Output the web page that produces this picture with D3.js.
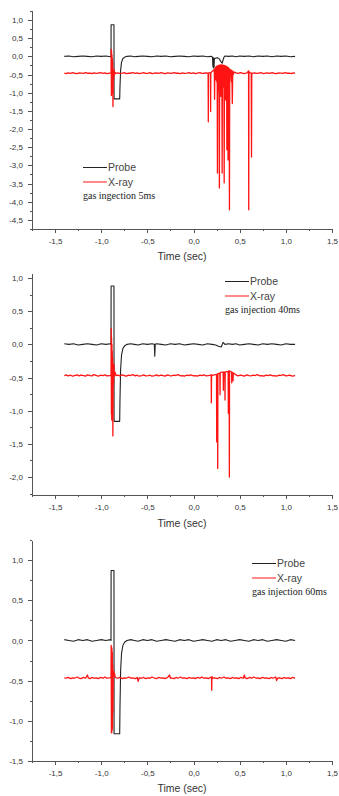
<!DOCTYPE html>
<html lang="en">
<head>
  <meta charset="UTF-8">
  <title>Probe and X-ray signals</title>
  <style>
    body {
      margin: 0;
      background: #fff;
    }
    svg {
      display: block;
    }
    .axis path,
    .axis line {
      stroke: #555;
      shape-rendering: crispEdges;
    }
    .axis text {
      fill: #333;
      font-family: "Liberation Sans", Arial, sans-serif;
      font-size: 8px;
    }
  </style>
</head>
<body>
  <svg id="chart" width="339" height="796"></svg>

  <script src="https://cdn.jsdelivr.net/npm/d3@7/dist/d3.min.js"></script>
  <script>
    // tick values
    const xTicks = [-1.5, -1.0, -0.5, 0.0, 0.5, 1.0, 1.5];
    const yTicks5 = [1.0, 0.5, 0.0, -0.5, -1.0, -1.5, -2.0, -2.5, -3.0, -3.5, -4.0, -4.5];
    const yTicks40 = [1.0, 0.5, 0.0, -0.5, -1.0, -1.5, -2.0];
    const yTicks60 = [1.0, 0.5, 0.0, -0.5, -1.0, -1.5];

    const seriesNames = ["Probe", "X-ray"];
    const notes = ["gas ingection 5ms", "gas injection 40ms", "gas injection 60ms"];
    const xTitle = "Time (sec)";

    // [time, signal]
    const probe5 = [[-1.40,0.00],[-1.35,0.01],[-1.30,-0.01],[-1.25,0.00],[-1.20,0.01],[-1.15,0.00],[-1.10,-0.01],[-1.05,0.01],[-1.00,0.00],[-0.95,0.01],[-0.90,-0.01],
      [-0.894,0.00],[-0.893,0.87],[-0.862,0.87],[-0.861,-1.17],[-0.800,-1.17],[-0.797,-0.85],[-0.790,-0.38],[-0.780,-0.16],[-0.765,-0.06],[-0.745,-0.02],[-0.72,0.00],
      [-0.68,0.01],[-0.64,-0.01],[-0.60,0.00],[-0.55,0.01],[-0.50,0.00],[-0.45,-0.01],[-0.40,0.01],[-0.35,0.00],[-0.30,0.01],[-0.25,-0.01],[-0.20,0.00],[-0.15,0.01],[-0.10,0.00],[-0.05,-0.01],[0.00,0.01],[0.05,0.00],[0.10,0.01],[0.15,-0.01],[0.19,0.00],
      [0.205,-0.02],[0.210,-0.28],[0.213,-0.05],[0.216,-0.32],[0.219,-0.04],[0.222,-0.30],[0.226,-0.06],[0.24,-0.05],[0.26,-0.04],[0.28,-0.07],[0.295,-0.14],[0.31,-0.19],[0.32,-0.10],[0.33,-0.02],[0.34,0.01],
      [0.38,0.00],[0.42,0.01],[0.46,-0.01],[0.50,0.01],[0.55,0.00],[0.60,0.01],[0.65,-0.01],[0.70,0.01],[0.75,0.00],[0.80,0.01],[0.85,-0.01],[0.90,0.01],[0.95,0.00],[1.00,0.01],[1.05,-0.01],[1.10,0.00]];

    const xray5 = [[-1.40,-0.46],[-1.38,-0.475],[-1.36,-0.455],[-1.33,-0.47],[-1.31,-0.45],[-1.29,-0.465],[-1.26,-0.475],[-1.24,-0.455],[-1.22,-0.46],[-1.19,-0.47],[-1.17,-0.45],[-1.15,-0.465],[-1.12,-0.46],[-1.10,-0.475],[-1.08,-0.455],[-1.05,-0.47],[-1.03,-0.46],[-1.01,-0.45],[-0.98,-0.47],[-0.96,-0.455],[-0.94,-0.475],[-0.91,-0.46],
      [-0.894,-0.46],[-0.892,0.20],[-0.890,-1.08],[-0.888,0.15],[-0.886,-1.02],[-0.884,0.05],[-0.882,-0.95],[-0.880,-0.05],[-0.878,-0.90],[-0.876,-0.15],[-0.873,-1.38],[-0.870,-0.40],[-0.866,-0.62],[-0.862,-0.36],[-0.858,-0.52],[-0.85,-0.44],[-0.84,-0.47],
      [-0.82,-0.455],[-0.80,-0.47],[-0.77,-0.46],[-0.75,-0.45],[-0.73,-0.475],[-0.70,-0.46],[-0.68,-0.465],[-0.66,-0.45],[-0.63,-0.47],[-0.61,-0.455],[-0.59,-0.475],[-0.56,-0.46],[-0.54,-0.45],[-0.52,-0.47],[-0.49,-0.465],[-0.47,-0.45],[-0.45,-0.475],[-0.42,-0.46],[-0.40,-0.455],[-0.38,-0.47],[-0.35,-0.45],[-0.33,-0.465],[-0.31,-0.475],[-0.28,-0.455],[-0.26,-0.46],[-0.24,-0.47],[-0.21,-0.45],[-0.19,-0.465],[-0.17,-0.46],[-0.14,-0.475],[-0.12,-0.455],[-0.10,-0.47],[-0.07,-0.46],[-0.05,-0.45],[-0.03,-0.47],[0.00,-0.455],[0.02,-0.475],[0.04,-0.46],[0.07,-0.45],[0.09,-0.47],[0.11,-0.465],[0.14,-0.455],
      [0.158,-0.46],[0.160,-1.80],[0.162,-0.47],[0.170,-0.45],[0.183,-0.46],[0.185,-1.52],[0.187,-0.45],[0.20,-0.42],[0.21,-0.40],[0.225,-0.36],[0.228,-1.18],[0.231,-0.34],
      [0.240,-0.30],[0.244,-0.65],[0.248,-0.28],[0.252,-0.70],[0.256,-0.27],[0.259,-3.21],[0.262,-0.26],[0.266,-0.80],[0.270,-0.25],[0.274,-0.95],[0.277,-0.25],[0.280,-3.62],[0.283,-0.24],[0.287,-0.75],[0.291,-0.24],[0.295,-1.10],[0.299,-0.23],[0.303,-0.70],[0.307,-0.24],[0.310,-3.21],[0.313,-0.24],[0.317,-0.85],[0.321,-0.24],[0.325,-0.60],[0.329,-0.25],[0.332,-3.48],[0.335,-0.25],[0.339,-0.70],[0.343,-0.26],[0.347,-1.20],[0.351,-0.27],[0.355,-0.65],[0.358,-0.28],[0.361,-2.57],[0.364,-0.29],[0.368,-0.75],[0.371,-0.30],[0.374,-2.85],[0.377,-0.31],[0.381,-0.60],[0.385,-0.33],[0.389,-4.22],[0.392,-0.35],[0.398,-0.55],[0.404,-0.37],[0.410,-0.70],[0.415,-0.39],[0.420,-1.30],[0.425,-0.41],[0.430,-0.50],[0.44,-0.43],[0.46,-0.455],[0.48,-0.47],[0.51,-0.45],[0.53,-0.465],[0.55,-0.475],[0.58,-0.455],
      [0.590,-0.42],[0.596,-0.40],[0.598,-4.22],[0.600,-0.42],[0.61,-0.45],[0.625,-0.46],[0.628,-2.77],[0.631,-0.46],[0.64,-0.47],[0.66,-0.455],[0.69,-0.47],[0.71,-0.46],[0.73,-0.45],[0.76,-0.475],[0.78,-0.46],[0.80,-0.455],[0.83,-0.47],[0.85,-0.45],[0.87,-0.465],[0.90,-0.475],[0.92,-0.455],[0.94,-0.46],[0.97,-0.47],[0.99,-0.45],[1.01,-0.465],[1.04,-0.46],[1.06,-0.475],[1.08,-0.455],[1.10,-0.46]];

    const probe40 = [[-1.40,0.01],[-1.35,0.00],[-1.30,0.01],[-1.25,-0.01],[-1.20,0.00],[-1.15,0.01],[-1.10,0.00],[-1.05,-0.01],[-1.00,0.01],[-0.95,0.00],[-0.90,0.01],
      [-0.894,0.00],[-0.893,0.88],[-0.862,0.88],[-0.861,-1.16],[-0.800,-1.16],[-0.797,-0.85],[-0.790,-0.38],[-0.780,-0.16],[-0.765,-0.06],[-0.745,-0.02],[-0.72,0.00],
      [-0.68,0.01],[-0.64,0.00],[-0.60,-0.01],[-0.55,0.01],[-0.50,0.00],[-0.45,0.01],[-0.425,0.00],[-0.420,-0.18],[-0.415,0.00],[-0.40,0.01],[-0.35,0.00],[-0.30,-0.01],[-0.25,0.01],[-0.20,0.00],[-0.15,0.01],[-0.10,-0.01],[-0.05,0.00],[0.00,0.01],[0.05,0.00],[0.10,-0.01],[0.15,0.01],[0.20,0.00],
      [0.24,-0.01],[0.27,-0.03],[0.30,-0.04],[0.32,0.03],[0.34,0.00],[0.38,0.01],[0.42,0.00],[0.46,0.01],[0.50,-0.01],[0.55,0.00],[0.60,0.01],[0.65,0.00],[0.70,-0.01],[0.75,0.01],[0.80,0.00],[0.85,0.01],[0.90,0.00],[0.95,-0.01],[1.00,0.01],[1.05,0.00],[1.10,0.00]];

    const xray40 = [[-1.40,-0.47],[-1.38,-0.46],[-1.36,-0.475],[-1.33,-0.465],[-1.31,-0.48],[-1.29,-0.47],[-1.26,-0.46],[-1.24,-0.475],[-1.22,-0.465],[-1.19,-0.47],[-1.17,-0.48],[-1.15,-0.46],[-1.12,-0.47],[-1.10,-0.475],[-1.08,-0.455],[-1.05,-0.47],[-1.03,-0.48],[-1.01,-0.465],[-0.98,-0.47],[-0.96,-0.46],[-0.94,-0.475],[-0.91,-0.47],
      [-0.894,-0.47],[-0.892,0.24],[-0.890,-1.05],[-0.888,0.10],[-0.886,-1.14],[-0.884,0.00],[-0.882,-0.95],[-0.880,-0.10],[-0.878,-1.10],[-0.876,-0.20],[-0.874,-1.38],[-0.871,-0.45],[-0.867,-0.60],[-0.863,-0.30],[-0.858,-0.48],[-0.85,-0.42],[-0.84,-0.47],
      [-0.82,-0.465],[-0.80,-0.475],[-0.77,-0.46],[-0.75,-0.47],[-0.73,-0.48],[-0.70,-0.465],[-0.68,-0.47],[-0.66,-0.455],[-0.63,-0.475],[-0.61,-0.465],[-0.59,-0.48],[-0.56,-0.47],[-0.54,-0.46],[-0.52,-0.475],[-0.49,-0.47],[-0.47,-0.465],[-0.45,-0.48],[-0.42,-0.47],[-0.40,-0.46],[-0.38,-0.475],[-0.35,-0.465],[-0.33,-0.47],[-0.31,-0.48],[-0.28,-0.46],[-0.26,-0.47],[-0.24,-0.475],[-0.21,-0.465],[-0.19,-0.47],[-0.17,-0.455],[-0.14,-0.475],[-0.12,-0.47],[-0.10,-0.48],[-0.07,-0.465],[-0.05,-0.47],[-0.03,-0.46],[0.00,-0.475],[0.02,-0.47],[0.04,-0.48],[0.07,-0.465],[0.09,-0.47],[0.11,-0.46],[0.14,-0.475],[0.16,-0.47],[0.18,-0.465],
      [0.191,-0.46],[0.193,-0.88],[0.195,-0.46],[0.21,-0.47],[0.23,-0.455],[0.249,-0.46],[0.251,-1.47],[0.253,-0.45],[0.260,-0.45],[0.262,-1.87],[0.264,-0.44],[0.275,-0.44],[0.285,-0.43],[0.287,-0.76],[0.289,-0.43],[0.300,-0.42],[0.321,-0.42],[0.323,-0.69],[0.325,-0.42],[0.339,-0.42],[0.341,-0.84],[0.343,-0.42],[0.360,-0.41],[0.375,-0.41],[0.377,-1.04],[0.379,-0.40],[0.386,-0.41],[0.388,-2.00],[0.390,-0.40],[0.400,-0.41],[0.412,-0.42],[0.414,-0.58],[0.416,-0.42],[0.426,-0.43],[0.428,-0.55],[0.430,-0.43],[0.44,-0.44],
      [0.46,-0.46],[0.48,-0.475],[0.51,-0.465],[0.53,-0.47],[0.55,-0.48],[0.58,-0.46],[0.60,-0.47],[0.62,-0.475],[0.65,-0.465],[0.67,-0.47],[0.69,-0.455],[0.72,-0.475],[0.74,-0.47],[0.76,-0.48],[0.79,-0.465],[0.81,-0.47],[0.83,-0.46],[0.86,-0.475],[0.88,-0.47],[0.90,-0.48],[0.93,-0.465],[0.95,-0.47],[0.97,-0.455],[1.00,-0.475],[1.02,-0.47],[1.04,-0.465],[1.07,-0.48],[1.10,-0.47]];

    const probe60 = [[-1.40,0.01],[-1.35,0.00],[-1.30,-0.01],[-1.25,0.01],[-1.20,0.00],[-1.15,0.01],[-1.10,-0.01],[-1.05,0.00],[-1.00,0.01],[-0.95,0.00],[-0.90,0.01],
      [-0.894,0.00],[-0.893,0.87],[-0.862,0.87],[-0.861,-1.16],[-0.800,-1.16],[-0.797,-0.85],[-0.790,-0.38],[-0.780,-0.16],[-0.765,-0.06],[-0.745,-0.02],[-0.72,0.00],
      [-0.68,0.01],[-0.64,0.00],[-0.60,-0.01],[-0.55,0.01],[-0.50,0.00],[-0.45,0.01],[-0.40,-0.01],[-0.35,0.00],[-0.30,0.01],[-0.25,0.00],[-0.20,-0.01],[-0.15,0.01],[-0.10,0.00],[-0.05,0.01],[0.00,-0.01],[0.05,0.00],[0.10,0.01],[0.15,0.00],[0.20,-0.01],[0.25,0.01],[0.30,0.00],[0.35,0.01],[0.40,-0.01],[0.45,0.00],[0.50,0.01],[0.55,0.00],[0.60,-0.01],[0.65,0.01],[0.70,0.00],[0.75,0.01],[0.80,-0.01],[0.85,0.00],[0.90,0.01],[0.95,0.00],[1.00,-0.01],[1.05,0.01],[1.10,0.00]];

    const xray60 = [[-1.40,-0.465],[-1.38,-0.47],[-1.36,-0.46],[-1.33,-0.475],[-1.31,-0.465],[-1.29,-0.47],[-1.26,-0.455],[-1.24,-0.47],[-1.22,-0.475],[-1.19,-0.46],[-1.17,-0.47],[-1.15,-0.43],[-1.14,-0.465],[-1.12,-0.475],[-1.10,-0.46],[-1.08,-0.47],[-1.05,-0.465],[-1.03,-0.475],[-1.01,-0.46],[-0.98,-0.47],[-0.96,-0.455],[-0.94,-0.47],[-0.91,-0.465],
      [-0.894,-0.46],[-0.892,-0.06],[-0.890,-1.15],[-0.888,-0.08],[-0.886,-1.15],[-0.884,-0.10],[-0.882,-1.12],[-0.880,-0.15],[-0.878,-1.10],[-0.876,-0.30],[-0.874,-0.90],[-0.870,-0.45],[-0.866,-0.38],[-0.862,-0.44],[-0.856,-0.41],[-0.85,-0.45],[-0.84,-0.465],
      [-0.82,-0.47],[-0.80,-0.46],[-0.77,-0.475],[-0.75,-0.465],[-0.73,-0.47],[-0.70,-0.455],[-0.68,-0.47],[-0.66,-0.465],[-0.63,-0.475],[-0.61,-0.46],[-0.60,-0.51],[-0.59,-0.465],[-0.56,-0.47],[-0.54,-0.46],[-0.52,-0.475],[-0.49,-0.465],[-0.47,-0.47],[-0.45,-0.455],[-0.42,-0.47],[-0.40,-0.475],[-0.38,-0.46],[-0.35,-0.47],[-0.33,-0.465],[-0.31,-0.475],[-0.28,-0.46],[-0.26,-0.43],[-0.25,-0.47],[-0.24,-0.465],[-0.21,-0.475],[-0.19,-0.46],[-0.17,-0.47],[-0.14,-0.455],[-0.12,-0.47],[-0.10,-0.465],[-0.07,-0.475],[-0.05,-0.46],[-0.03,-0.47],[0.00,-0.465],[0.02,-0.475],[0.04,-0.46],[0.07,-0.47],[0.09,-0.455],[0.11,-0.47],[0.14,-0.465],[0.16,-0.475],[0.18,-0.46],
      [0.195,-0.46],[0.197,-0.62],[0.199,-0.45],[0.21,-0.47],[0.23,-0.465],[0.26,-0.475],[0.28,-0.46],[0.30,-0.47],[0.33,-0.455],[0.35,-0.47],[0.37,-0.465],[0.40,-0.475],[0.42,-0.46],[0.44,-0.47],[0.47,-0.465],[0.49,-0.475],[0.51,-0.46],[0.54,-0.47],[0.55,-0.43],[0.56,-0.465],[0.58,-0.475],[0.61,-0.46],[0.63,-0.47],[0.65,-0.455],[0.68,-0.47],[0.70,-0.465],[0.72,-0.475],[0.75,-0.46],[0.77,-0.47],[0.79,-0.465],[0.82,-0.475],[0.84,-0.46],[0.86,-0.47],[0.89,-0.455],[0.90,-0.50],[0.91,-0.47],[0.93,-0.465],[0.96,-0.475],[0.98,-0.46],[1.00,-0.47],[1.03,-0.465],[1.05,-0.475],[1.07,-0.46],[1.10,-0.47]];

    const svg = d3.select("#chart");

    // layout of each panel, in pixels
    const panels = [
      { probe: probe5, xray: xray5, yTicks: yTicks5, note: notes[0],
        yDomain: [-4.75, 1.275], top: 10, bottom: 229, legendX: 83, legendY: 167, titleY: 260 },
      { probe: probe40, xray: xray40, yTicks: yTicks40, note: notes[1],
        yDomain: [-2.27, 1.075], top: 273, bottom: 495, legendX: 225, legendY: 281, titleY: 527 },
      { probe: probe60, xray: xray60, yTicks: yTicks60, note: notes[2],
        yDomain: [-1.5, 1.25], top: 540, bottom: 761, legendX: 252, legendY: 563, titleY: 792 }
    ];

    const left = 32, right = 332;
    const x = d3.scaleLinear().domain([-1.75, 1.5]).range([left, right]);

    const fmt = v => (v < -1e-9 ? "-" : "") + Math.abs(v).toFixed(1).replace(".", ",");

    // minor ticks halfway between the major ones, kept inside the domain
    function minorTicks(ticks, domain) {
      const step = Math.abs(ticks[1] - ticks[0]) / 2;
      const lo = Math.min(...domain), hi = Math.max(...domain);
      const out = [];
      for (let v = Math.min(...ticks) - step; v <= hi + 1e-9; v += step) {
        if (v >= lo - 1e-9 && !ticks.some(t => Math.abs(t - v) < 1e-6)) out.push(v);
      }
      return out;
    }

    const probeColor = "#222";
    const xrayColor = "#ff1414";

    panels.forEach(p => {
      const y = d3.scaleLinear().domain(p.yDomain).range([p.bottom, p.top]);
      const g = svg.append("g");

      const line = d3.line().x(d => x(d[0])).y(d => y(d[1]));

      g.append("path")
        .datum(p.probe)
        .attr("fill", "none")
        .attr("stroke", probeColor)
        .attr("stroke-width", 1.1)
        .attr("stroke-linejoin", "round")
        .attr("d", line);

      g.append("path")
        .datum(p.xray)
        .attr("fill", "none")
        .attr("stroke", xrayColor)
        .attr("stroke-width", 1.3)
        .attr("stroke-linejoin", "round")
        .attr("d", line);

      // axes
      g.append("g")
        .attr("class", "axis")
        .attr("transform", `translate(${left},0)`)
        .call(d3.axisLeft(y).tickValues(p.yTicks).tickFormat(fmt).tickSize(4).tickPadding(5).tickSizeOuter(0));
      g.append("g")
        .attr("class", "axis")
        .attr("transform", `translate(${left},0)`)
        .call(d3.axisLeft(y).tickValues(minorTicks(p.yTicks, p.yDomain)).tickFormat("").tickSize(2).tickSizeOuter(0))
        .select(".domain").remove();

      g.append("g")
        .attr("class", "axis")
        .attr("transform", `translate(0,${p.bottom})`)
        .call(d3.axisBottom(x).tickValues(xTicks).tickFormat(fmt).tickSize(4).tickPadding(5).tickSizeOuter(0));
      g.append("g")
        .attr("class", "axis")
        .attr("transform", `translate(0,${p.bottom})`)
        .call(d3.axisBottom(x).tickValues(minorTicks(xTicks, x.domain())).tickFormat("").tickSize(2).tickSizeOuter(0))
        .select(".domain").remove();

      g.append("text")
        .attr("x", (left + right) / 2)
        .attr("y", p.titleY)
        .attr("text-anchor", "middle")
        .attr("fill", "#333")
        .attr("font-family", "'Liberation Sans', Arial, sans-serif")
        .attr("font-size", "10.5px")
        .text(xTitle);

      // legend
      const leg = g.append("g").attr("transform", `translate(${p.legendX},${p.legendY})`);
      [probeColor, xrayColor].forEach((c, i) => {
        leg.append("line")
          .attr("x1", 0).attr("x2", 24)
          .attr("y1", i * 14.5 + 0.5).attr("y2", i * 14.5 + 0.5)
          .attr("stroke", c)
          .attr("stroke-width", 1);
        leg.append("text")
          .attr("x", 25)
          .attr("y", i * 14.5 + 4)
          .attr("fill", "#444")
          .attr("font-family", "'Liberation Sans', Arial, sans-serif")
          .attr("font-size", "10.5px")
          .text(seriesNames[i]);
      });
      leg.append("text")
        .attr("x", 0)
        .attr("y", 31.5)
        .attr("fill", "#222")
        .attr("font-family", "'Liberation Serif', 'Times New Roman', serif")
        .attr("font-size", "10px")
        .text(p.note);
    });
  </script>
</body>
</html>
